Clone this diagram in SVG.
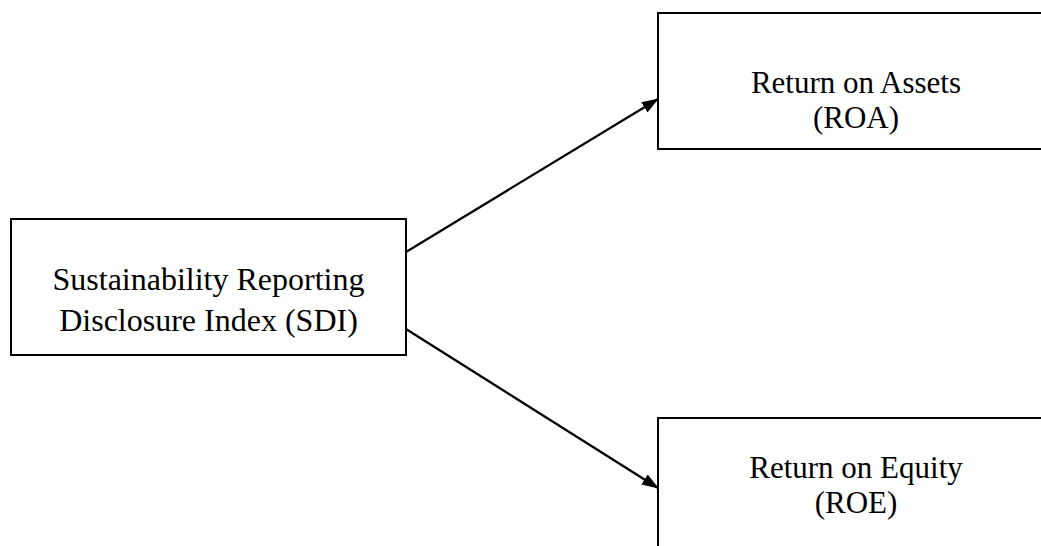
<svg xmlns="http://www.w3.org/2000/svg" width="1041" height="546" viewBox="0 0 1041 546">
<style>
.box{fill:#fff;stroke:#000;stroke-width:2}
.lbl{font-family:"Liberation Serif","Times New Roman",serif;fill:#000;text-anchor:middle}
.big{font-size:32px}
.med{font-size:31px}
.conn{stroke:#000;stroke-width:2.2;fill:none}
</style>
<defs>
<marker id="arr" viewBox="0 0 17 12" refX="16" refY="6" markerWidth="17" markerHeight="12" markerUnits="userSpaceOnUse" orient="auto">
<path d="M0,0 L17,6 L0,12 z" fill="#000"/>
</marker>
</defs>
<rect width="1041" height="546" fill="#fff"/>
<g id="connectors">
<line class="conn" x1="406" y1="252" x2="658" y2="99" marker-end="url(#arr)"/>
<line class="conn" x1="406" y1="329" x2="658" y2="488" marker-end="url(#arr)"/>
</g>
<g id="sdi">
<rect class="box" x="11" y="219" width="395" height="136"/>
<text class="lbl big" x="208.5" y="290">Sustainability Reporting</text>
<text class="lbl big" x="208.5" y="331">Disclosure Index (SDI)</text>
</g>
<g id="roa">
<rect class="box" x="658" y="13" width="398" height="136"/>
<text class="lbl med" x="856" y="93">Return on Assets</text>
<text class="lbl med" x="856" y="128">(ROA)</text>
</g>
<g id="roe">
<rect class="box" x="658" y="418" width="398" height="136"/>
<text class="lbl med" x="856" y="478">Return on Equity</text>
<text class="lbl med" x="856" y="513">(ROE)</text>
</g>
</svg>
